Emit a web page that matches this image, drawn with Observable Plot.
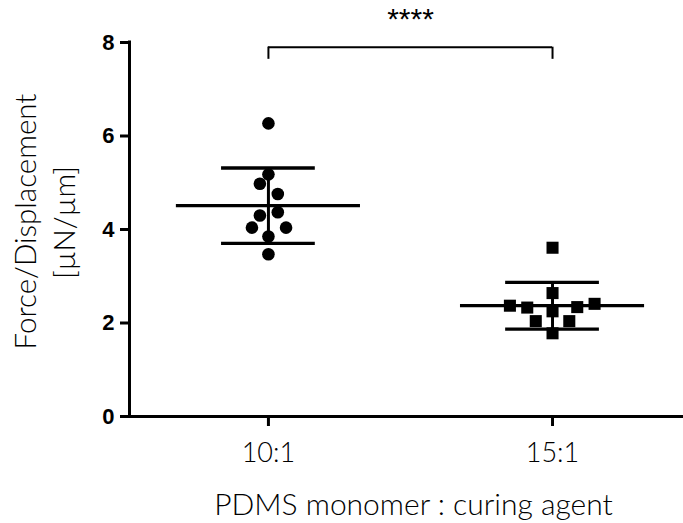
<!DOCTYPE html>
<html>
<head>
<meta charset="utf-8">
<script src="https://cdn.jsdelivr.net/npm/d3@7"></script>
<script src="https://cdn.jsdelivr.net/npm/@observablehq/plot@0.6"></script>
<style>
  html, body { margin: 0; padding: 0; background: #fff; }
  #chart svg { display: block; }
</style>
</head>
<body>
<div id="chart"></div>
<script>
// ---- data ----
const groups = ["10:1", "15:1"];
const groupPos = [1, 2];
const yTicks = [0, 2, 4, 6, 8];

const values10 = [6.27, 5.18, 4.98, 4.76, 4.37, 4.30, 4.04, 4.04, 3.85, 3.47];
const jitter10 = [0, 0, -0.03, 0.033, 0.033, -0.03, -0.058, 0.062, 0, 0];
const values15 = [3.61, 2.64, 2.37, 2.33, 2.25, 2.34, 2.41, 2.04, 2.04, 1.78];
const jitter15 = [0, 0, -0.150, -0.089, 0, 0.087, 0.148, -0.059, 0.059, 0];

const means = [4.51, 2.37];
const sds = [0.805, 0.50];

const sigLabel = "****";
const sigBarY = 7.9;
const sigDropY = 7.64;
const sigLabelY = 8.5;

const xTitle = "PDMS monomer : curing agent";
const yTitle1 = "Force/Displacement";
const yTitle2 = "[µN/µm]";

// ---- build tables ----
const pts10 = values10.map((v, i) => ({x: groupPos[0] + jitter10[i], y: v}));
const pts15 = values15.map((v, i) => ({x: groupPos[1] + jitter15[i], y: v}));
const stats = groups.map((g, i) => ({pos: groupPos[i], mean: means[i], lo: means[i] - sds[i], hi: means[i] + sds[i]}));

const meanHalf = 0.324;
const capHalf = 0.165;
const lightFont = "'Lato Light', Carlito, Lato, 'Open Sans', sans-serif";
const boldFont = "'Liberation Sans', Arial, sans-serif";

const chart = Plot.plot({
  width: 683,
  height: 523,
  marginLeft: 129,
  marginRight: 0,
  marginTop: 42,
  marginBottom: 107,
  style: {background: "white", color: "black"},
  x: {domain: [0.511, 2.461], axis: null},
  y: {domain: [0, 8], axis: null},
  marks: [
    // axes
    Plot.axisY({ticks: yTicks, tickSize: 9, tickPadding: 6, strokeWidth: 3, fontSize: 22, fontWeight: "bold", fontFamily: boldFont, label: null, tickFormat: d => String(d)}),
    Plot.axisX({ticks: groupPos, tickSize: 10, tickPadding: 16, strokeWidth: 3, fontSize: 27, fontWeight: 300, fontFamily: lightFont, label: null, tickFormat: d => groups[d - 1]}),
    Plot.ruleX([0.511], {y1: 0, y2: 8, strokeWidth: 3, strokeLinecap: "square"}),
    Plot.ruleY([0], {strokeWidth: 3}),
    // axis titles
    Plot.text([xTitle], {frameAnchor: "bottom", textAnchor: "middle", dx: 7, dy: 77, lineAnchor: "top", fontSize: 30, fontWeight: 300, fontFamily: lightFont}),
    Plot.text([yTitle1], {frameAnchor: "left", textAnchor: "middle", rotate: -90, dx: -103, dy: -8, lineAnchor: "middle", fontSize: 29.5, fontWeight: 300, fontFamily: lightFont}),
    Plot.text([yTitle2], {frameAnchor: "left", textAnchor: "middle", rotate: -90, dx: -64, dy: -7, lineAnchor: "middle", fontSize: 29.5, fontWeight: 300, fontFamily: lightFont}),
    // mean and SD
    Plot.ruleY(stats, {y: "mean", x1: d => d.pos - meanHalf, x2: d => d.pos + meanHalf, strokeWidth: 3.3}),
    Plot.ruleY(stats, {y: "hi", x1: d => d.pos - capHalf, x2: d => d.pos + capHalf, strokeWidth: 3.3}),
    Plot.ruleY(stats, {y: "lo", x1: d => d.pos - capHalf, x2: d => d.pos + capHalf, strokeWidth: 3.3}),
    Plot.ruleX(stats, {x: "pos", y1: "lo", y2: "hi", strokeWidth: 3}),
    // points
    Plot.dot(pts10, {x: "x", y: "y", r: 6.3, fill: "black", stroke: "none", symbol: "circle"}),
    Plot.dot(pts15, {x: "x", y: "y", r: 6.8, fill: "black", stroke: "none", symbol: "square"}),
    // significance bracket
    Plot.ruleY([sigBarY], {x1: groupPos[0], x2: groupPos[1], strokeWidth: 2}),
    Plot.ruleX(groupPos, {y1: sigDropY, y2: sigBarY, strokeWidth: 2}),
    Plot.text([sigLabel], {x: (groupPos[0] + groupPos[1]) / 2, y: sigLabelY, fontSize: 30, fontFamily: boldFont, lineAnchor: "middle"})
  ]
});
document.getElementById("chart").appendChild(chart);
</script>
</body>
</html>
